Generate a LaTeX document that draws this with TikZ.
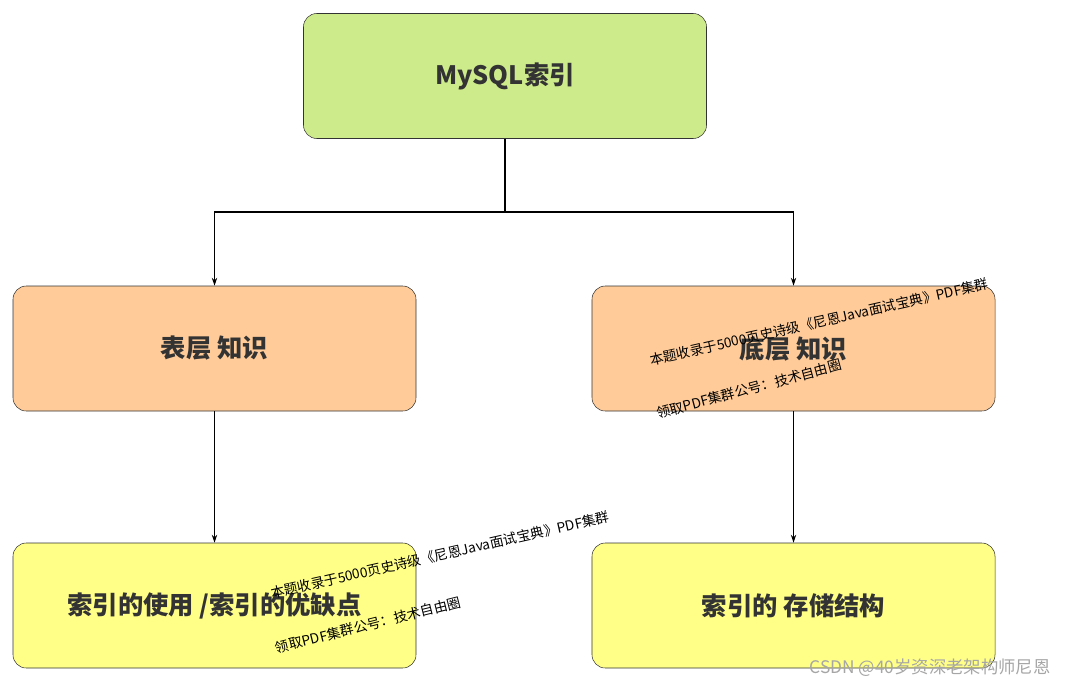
\documentclass[tikz,border=0pt]{standalone}
\usepackage{fontspec}
\setmainfont{Noto Sans CJK SC}
\usetikzlibrary{arrows.meta}
\begin{document}
\begin{tikzpicture}[x=0.75pt,y=-0.75pt,
 box/.style={draw=black!80,rounded corners=10pt,minimum width=403*0.75pt,minimum height=125*0.75pt,font=\fontsize{19}{21}\selectfont\bfseries,text=black!80},
 arr/.style={-{Stealth[length=6pt,width=4pt]},black,line width=0.8pt},
 wm/.style={font=\fontsize{10.3}{12}\selectfont,inner sep=0pt}]
\useasboundingbox (0,0) rectangle (1080,688);
\fill[white] (0,0) rectangle (1080,688);
\node[box,fill={rgb,255:red,205;green,235;blue,139}] (top) at (505,76) {MySQL索引};
\node[box,fill={rgb,255:red,255;green,204;blue,153}] (l1) at (214.5,348.5) {表层 知识};
\node[box,fill={rgb,255:red,255;green,204;blue,153}] (r1) at (793.5,348.5) {底层 知识};
\node[box,fill={rgb,255:red,255;green,255;blue,136}] (l2) at (214.5,605.5) {索引的使用 /索引的优缺点};
\node[box,fill={rgb,255:red,255;green,255;blue,136}] (r2) at (793.5,605.5) {索引的 存储结构};
\coordinate (j) at (505,212);
\draw[line width=0.8pt] (top.south) -- (j);
\draw[arr] (j) -| (l1.north);
\draw[arr] (j) -| (r1.north);
\draw[arr] (l1) -- (l2);
\draw[arr] (r1) -- (r2);
\node[wm,rotate=12.8] (w1) at (819,322) {本题收录于5000页史诗级《尼恩Java面试宝典》PDF集群};
\node[wm,rotate=15] (w2) at (749,389) {领取PDF集群公号：技术自由圈};
\node[wm,rotate=12.8] (w3) at (440,555) {本题收录于5000页史诗级《尼恩Java面试宝典》PDF集群};
\node[wm,rotate=14] (w4) at (368,625) {领取PDF集群公号：技术自由圈};
\node[font=\fontsize{13}{15}\selectfont,text=black!35,inner sep=0pt] (cs) at (930,668) {CSDN @40岁资深老架构师尼恩};
\end{tikzpicture}
\end{document}
